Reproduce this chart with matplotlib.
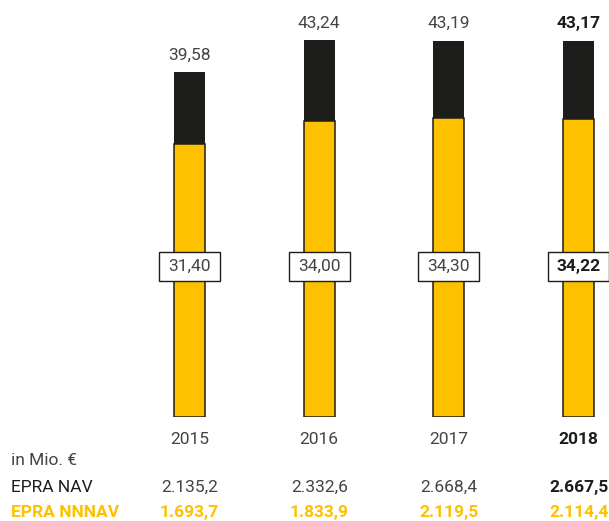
import matplotlib
matplotlib.use("Agg")
import matplotlib.pyplot as plt
from matplotlib.patches import Rectangle
from matplotlib.transforms import blended_transform_factory

plt.rcParams['font.family'] = ['Roboto', 'DejaVu Sans']

years = ["2015", "2016", "2017", "2018"]
nav_per_share = [39.58, 43.24, 43.19, 43.17]
nnnav_per_share = [31.40, 34.00, 34.30, 34.22]
nav_total = ["2.135,2", "2.332,6", "2.668,4", "2.667,5"]
nnnav_total = ["1.693,7", "1.833,9", "2.119,5", "2.114,4"]

YELLOW = "#FDC100"
DARK = "#1D1D1B"
GREY = "#444444"


def fmt(v):
    return f"{v:.2f}".replace(".", ",")


fig = plt.figure(figsize=(6.09, 5.21), dpi=100)
ax = fig.add_axes([0.0, 0.199, 1.0, 0.801])
ax.set_xlim(-1.461, 3.234)
ax.set_ylim(0, 47.86)
ax.axis("off")

x = list(range(len(years)))
width = 0.239

# dark segment: from NNNAV up to NAV
ax.bar(x, [t - b for t, b in zip(nav_per_share, nnnav_per_share)], width,
       bottom=nnnav_per_share, color=DARK, edgecolor=DARK, linewidth=0, zorder=2)
# yellow segment: NNNAV
ax.bar(x, nnnav_per_share, width, color=YELLOW, edgecolor=DARK,
       linewidth=1.1, zorder=3)

last = len(years) - 1
for i, (xi, top, low) in enumerate(zip(x, nav_per_share, nnnav_per_share)):
    weight = "bold" if i == last else "normal"
    col = DARK if i == last else GREY
    ax.annotate(fmt(top), (xi, top), xytext=(0, 9), textcoords="offset points",
                ha="center", va="baseline", fontsize=12.5, color=col,
                fontweight=weight)
    # framed label for the NNNAV value
    bt = blended_transform_factory(ax.transData, ax.transAxes)
    ax.add_patch(Rectangle((xi - 0.235, 0.361 - 0.0348), 0.47, 0.0695,
                           transform=bt, facecolor="white", edgecolor=DARK,
                           linewidth=1.0, zorder=4, clip_on=False))
    ax.text(xi, 0.361, fmt(low), transform=bt, ha="center", va="center",
            fontsize=12.5, color=col, fontweight=weight, zorder=5)

ft = blended_transform_factory(ax.transData, fig.transFigure)
for i, xi in enumerate(x):
    bold = i == last
    ax.text(xi, 0.1478, years[i], transform=ft, ha="center", va="baseline",
            fontsize=12.5, color=DARK if bold else GREY,
            fontweight="bold" if bold else "normal", clip_on=False)
    ax.text(xi, 0.0551, nav_total[i], transform=ft, ha="center", va="baseline",
            fontsize=12.5, color=DARK if bold else GREY,
            fontweight="bold" if bold else "normal", clip_on=False)
    ax.text(xi, 0.0071, nnnav_total[i], transform=ft, ha="center", va="baseline",
            fontsize=12.5, color=YELLOW, fontweight="bold", clip_on=False)

fig.text(0.018, 0.1069, "in Mio. €", ha="left", va="baseline",
         fontsize=12.5, color=GREY)
fig.text(0.018, 0.0551, "EPRA NAV", ha="left", va="baseline",
         fontsize=12.5, color=DARK)
fig.text(0.018, 0.0071, "EPRA NNNAV", ha="left", va="baseline",
         fontsize=12.5, color=YELLOW, fontweight="bold")

fig.savefig("out.png", dpi=100, facecolor="white")
